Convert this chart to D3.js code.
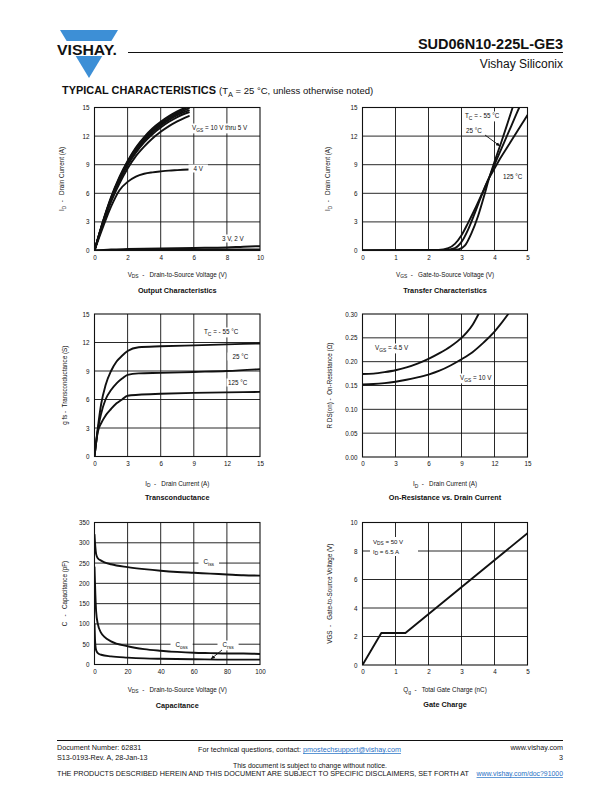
<!DOCTYPE html>
<html><head><meta charset="utf-8">
<script src="https://cdn.jsdelivr.net/npm/d3@7"></script>
<style>
body{margin:0;background:#fff}
svg{display:block}
text{font-family:"Liberation Sans",Arial,Helvetica,sans-serif;fill:#111;white-space:pre}
</style></head>
<body><svg id="c" width="612" height="792"></svg>
<script>
// ---------- DATA ----------
// Output characteristics (VDS, ID)
const outXTicks = [0,2,4,6,8,10];
const outYTicks = [0,3,6,9,12,15];
const outV10 = [[0,0],[0.5,3.0],[1,5.6],[1.5,7.7],[2,9.4],[2.5,10.8],[3,11.9],[3.5,12.8],[4,13.5],[4.5,14.1],[5,14.6],[5.5,15.0]];
const outV9  = [[0,0],[0.5,2.95],[1,5.5],[1.5,7.6],[2,9.3],[2.5,10.7],[3,11.8],[3.5,12.7],[4,13.4],[4.5,14.0],[5,14.5],[5.6,15.0]];
const outV8  = [[0,0],[0.5,2.9],[1,5.45],[1.5,7.5],[2,9.2],[2.5,10.55],[3,11.65],[3.5,12.55],[4,13.25],[4.5,13.85],[5,14.35],[5.7,14.9]];
const outV7  = [[0,0],[0.5,2.85],[1,5.4],[1.5,7.4],[2,9.05],[2.5,10.4],[3,11.5],[3.5,12.4],[4,13.1],[4.5,13.7],[5,14.2],[5.7,14.7]];
const outV6  = [[0,0],[0.5,2.8],[1,5.3],[1.5,7.3],[2,8.95],[2.5,10.25],[3,11.35],[3.5,12.2],[4,12.9],[4.5,13.5],[5,14.0],[5.7,14.5]];
const outV5  = [[0,0],[0.5,2.7],[1,5.1],[1.5,7.0],[2,8.6],[2.5,9.9],[3,10.9],[3.5,11.75],[4,12.45],[4.5,13.05],[5,13.55],[5.7,14.1]];
const outV4  = [[0,0],[0.5,2.4],[1,4.6],[1.5,6.3],[2,7.2],[2.5,7.75],[3,8.05],[3.5,8.2],[4,8.3],[4.5,8.38],[5,8.43],[5.7,8.5]];
const outV3  = [[0,0],[1,0.1],[2,0.15],[4,0.22],[6,0.27],[8,0.32],[9,0.4],[10,0.45]];
const outV2  = [[0,0],[2,0.05],[5,0.08],[10,0.12]];

// Transfer characteristics (VGS, ID)
const trXTicks = [0,1,2,3,4,5];
const trYTicks = [0,3,6,9,12,15];
const trM55 = [[0,0],[2.5,0.02],[2.9,0.1],[3.1,0.5],[3.3,1.8],[3.5,3.6],[3.7,5.9],[3.82,7.4],[4.0,9.3],[4.2,11.3],[4.4,13.4],[4.55,15]];
const tr25  = [[0,0],[2.5,0.05],[2.8,0.25],[3.0,0.9],[3.2,2.2],[3.4,3.9],[3.6,5.7],[3.82,7.5],[4.0,9.0],[4.2,10.6],[4.4,12.2],[4.6,13.8],[4.75,15]];
const tr125 = [[0,0],[2.3,0.05],[2.6,0.25],[2.8,0.7],[3.0,1.6],[3.2,2.9],[3.4,4.3],[3.6,5.8],[3.82,7.5],[4.0,8.6],[4.2,9.8],[4.4,10.9],[4.6,12.0],[4.8,13.1],[5.0,14.2]];

// Transconductance (ID, gfs)
const gfsXTicks = [0,3,6,9,12,15];
const gfsYTicks = [0,3,6,9,12,15];
const gfsM55 = [[0,0],[0.3,3],[0.6,5.5],[1,7.5],[1.5,9],[2,10],[2.5,10.6],[3,11.1],[4,11.5],[6,11.6],[9,11.7],[12,11.8],[15,11.9]];
const gfs25  = [[0,0],[0.3,2.8],[0.6,4.5],[1,6],[1.5,7],[2,7.7],[2.5,8.2],[3,8.6],[4,8.75],[6,8.8],[9,8.9],[12,9.0],[15,9.2]];
const gfs125 = [[0,0],[0.3,2.6],[0.6,3.5],[1,4.3],[1.5,5],[2,5.6],[2.5,6],[3,6.4],[4,6.5],[6,6.6],[9,6.7],[12,6.75],[15,6.8]];

// On-resistance (ID, RDS(on))
const rdsXTicks = [0,3,6,9,12,15];
const rdsYTicks = [0,0.05,0.10,0.15,0.20,0.25,0.30];
const rds45 = [[0,0.174],[1,0.175],[2,0.178],[3,0.182],[4,0.188],[5,0.196],[6,0.206],[7,0.218],[8,0.232],[9,0.25],[9.5,0.262],[10,0.277],[10.55,0.3]];
const rds10 = [[0,0.152],[1,0.153],[2,0.155],[3,0.158],[4,0.162],[5,0.167],[6,0.173],[7,0.181],[8,0.192],[9,0.205],[10,0.22],[11,0.24],[12,0.263],[12.5,0.277],[13.25,0.3]];

// Capacitance (VDS, C)
const capXTicks = [0,20,40,60,80,100];
const capYTicks = [0,50,100,150,200,250,300,350];
const ciss = [[0,320],[0.5,290],[1,272],[2,262],[4,256],[6,252],[10,247],[20,240],[30,235],[40,231],[50,228],[60,226],[70,224],[80,222],[90,220],[100,219]];
const coss = [[0,240],[0.5,175],[1,130],[2,100],[4,78],[6,68],[10,57],[20,45],[30,38],[40,34],[50,31],[60,29],[70,28],[80,27],[90,27],[100,26]];
const crss = [[0,100],[0.3,62],[0.6,45],[1,35],[2,28],[4,24],[10,20],[20,17],[30,15],[40,14],[60,13],[80,12],[100,12]];

// Gate charge (Qg, VGS)
const qgXTicks = [0,1,2,3,4,5];
const qgYTicks = [0,2,4,6,8,10];
const qgCurve = [[0,0],[0.57,2.25],[1.3,2.25],[5,9.25]];

// ---------- DRAWING ----------
const svg = d3.select("#c");
const INK = "#111";

function rich(g, x, y, segs, size, anchor, weight, color, shift) {
  const t = g.append("text").attr("x", x).attr("y", y)
    .attr("font-size", size).attr("text-anchor", anchor || "start");
  if (weight) t.attr("font-weight", weight);
  if (color) t.style("fill", color);
  const sh = shift == null ? size * 0.3 : shift;
  let shifted = 0;
  segs.forEach(s => {
    const txt = typeof s === "string" ? s : s[0];
    const sub = typeof s !== "string" && s[1];
    const ts = t.append("tspan").text(txt);
    if (sub && !shifted) { ts.attr("dy", sh).attr("font-size", size*0.78); shifted = 1; }
    else if (sub) { ts.attr("font-size", size*0.78); }
    else if (shifted) { ts.attr("dy", -sh); shifted = 0; }
  });
  return t;
}
function boxed(g, x, y, segs, size, pad) {
  const t = rich(g, x, y, segs, size);
  const b = t.node().getBBox();
  const p = pad == null ? 1.5 : pad;
  g.insert("rect", () => t.node()).attr("x", b.x - p).attr("y", b.y - 0.5)
    .attr("width", b.width + 2*p).attr("height", b.height + 1).attr("fill", "#fff");
  return t;
}

let clipId = 0;
function chart(cfg) {
  const g = svg.append("g");
  const x = d3.scaleLinear().domain(cfg.xDomain).range([cfg.left, cfg.right]);
  const y = d3.scaleLinear().domain(cfg.yDomain).range([cfg.bottom, cfg.top]);
  // grid
  g.append("g").selectAll("line").data(cfg.xTicks.slice(1, -1)).join("line")
    .attr("x1", d => x(d)).attr("x2", d => x(d)).attr("y1", cfg.top).attr("y2", cfg.bottom)
    .attr("stroke", INK).attr("stroke-width", 0.9);
  g.append("g").selectAll("line").data(cfg.yTicks.slice(1, -1)).join("line")
    .attr("y1", d => y(d)).attr("y2", d => y(d)).attr("x1", cfg.left).attr("x2", cfg.right)
    .attr("stroke", INK).attr("stroke-width", 0.9);
  // axes (tick labels)
  const xa = g.append("g").attr("transform", `translate(0,${cfg.bottom})`)
    .call(d3.axisBottom(x).tickValues(cfg.xTicks).tickSize(0).tickPadding(5).tickFormat(cfg.xFmt || d3.format("d")));
  const ya = g.append("g").attr("transform", `translate(${cfg.left},0)`)
    .call(d3.axisLeft(y).tickValues(cfg.yTicks).tickSize(0).tickPadding(5).tickFormat(cfg.yFmt || d3.format("d")));
  [xa, ya].forEach(a => {
    a.select(".domain").remove();
    a.selectAll("text").attr("font-size", 6.3).attr("font-family", '"Liberation Sans",Arial,sans-serif').style("fill", INK);
  });
  // clip
  const id = "clip" + (clipId++);
  g.append("clipPath").attr("id", id).append("rect")
    .attr("x", cfg.left).attr("y", cfg.top).attr("width", cfg.right - cfg.left).attr("height", cfg.bottom - cfg.top);
  const lines = g.append("g").attr("clip-path", `url(#${id})`);
  const line = d3.line().x(d => x(d[0])).y(d => y(d[1])).curve(cfg.curve || d3.curveMonotoneX);
  cfg.series.forEach(s => {
    lines.append("path").attr("d", line(s)).attr("fill", "none").attr("stroke", INK)
      .attr("stroke-width", cfg.sw || 1.9).attr("stroke-linejoin", "round").attr("stroke-linecap", "round");
  });
  // labels layer
  const lab = g.append("g");
  if (cfg.labels) cfg.labels(lab, x, y);
  // frame
  g.append("rect").attr("x", cfg.left).attr("y", cfg.top).attr("width", cfg.right - cfg.left)
    .attr("height", cfg.bottom - cfg.top).attr("fill", "none").attr("stroke", INK).attr("stroke-width", 1.1);
  // axis titles
  const cx = (cfg.left + cfg.right) / 2, cy = (cfg.top + cfg.bottom) / 2;
  rich(g, cx, cfg.bottom + cfg.xtOff, cfg.xTitle, 6.3, "middle");
  const yt = rich(g, 0, 0, cfg.yTitle, 6.3, "middle");
  yt.attr("transform", `translate(${cfg.ytX},${cy}) rotate(-90)`);
  rich(g, cx, cfg.bottom + cfg.titleOff, [cfg.title], 7.3, "middle", "bold");
  return g;
}

// arrowhead marker
svg.append("defs").append("marker").attr("id", "arr").attr("viewBox", "0 0 10 10")
  .attr("refX", 9).attr("refY", 5).attr("markerWidth", 5).attr("markerHeight", 5).attr("orient", "auto")
  .append("path").attr("d", "M0,1 L10,5 L0,9 Z").attr("fill", INK);
function arrow(g, x1, y1, x2, y2) {
  g.append("line").attr("x1", x1).attr("y1", y1).attr("x2", x2).attr("y2", y2)
    .attr("stroke", INK).attr("stroke-width", 0.9).attr("marker-end", "url(#arr)");
}

const L1 = 94.5, R1 = 260, L2 = 362.5, R2 = 527.5;

chart({
  left: L1, right: R1, top: 107.5, bottom: 250.5, xDomain: [0, 10], yDomain: [0, 15],
  xTicks: outXTicks, yTicks: outYTicks, series: [outV10, outV9, outV8, outV7, outV6, outV5, outV4, outV3, outV2],
  xTitle: [["V"], ["DS", 1], "  -   Drain-to-Source Voltage (V)"], yTitle: ["I", ["D", 1], "  -   Drain Current (A)"],
  title: "Output Characteristics", xtOff: 26, titleOff: 42, ytX: 64,
  labels: (g, x, y) => {
    boxed(g, 192, 130, ["V", ["GS", 1], " = 10 V thru 5 V"], 6.3);
    boxed(g, 190, 171, ["  4 V  "], 6.3);
    boxed(g, 222, 241, ["3 V, 2 V "], 6.3);
  }
});

chart({
  left: L2, right: R2, top: 107.5, bottom: 250.5, xDomain: [0, 5], yDomain: [0, 15],
  xTicks: trXTicks, yTicks: trYTicks, series: [trM55, tr25, tr125],
  xTitle: [["V"], ["GS", 1], "  -   Gate-to-Source Voltage (V)"], yTitle: ["I", ["D", 1], "  -   Drain Current (A)"],
  title: "Transfer Characteristics", xtOff: 26, titleOff: 42, ytX: 330,
  labels: (g, x, y) => {
    boxed(g, 465, 118, ["T", ["C", 1], " = - 55 °C"], 6.3);
    boxed(g, 466, 133, ["25 °C"], 6.3);
    arrow(g, 485, 135, 500, 146);
    boxed(g, 503, 179, ["125 °C"], 6.3);
  }
});

chart({
  left: L1, right: R1, top: 314, bottom: 456.5, xDomain: [0, 15], yDomain: [0, 15],
  xTicks: gfsXTicks, yTicks: gfsYTicks, series: [gfsM55, gfs25, gfs125],
  xTitle: [["I"], ["D", 1], "  -   Drain Current (A)"], yTitle: ["g fs -  Transconductance (S)"],
  title: "Transconductance", xtOff: 29, titleOff: 43, ytX: 67,
  labels: (g, x, y) => {
    boxed(g, 204, 334, ["T", ["C", 1], " = - 55 °C"], 6.3);
    boxed(g, 229, 359, ["  25 °C"], 6.3);
    boxed(g, 228, 385, ["125 °C"], 6.3);
  }
});

chart({
  left: L2, right: R2, top: 314, bottom: 457, xDomain: [0, 15], yDomain: [0, 0.30],
  xTicks: rdsXTicks, yTicks: rdsYTicks, series: [rds45, rds10], yFmt: d3.format(".2f"),
  xTitle: [["I"], ["D", 1], "  -   Drain Current (A)"], yTitle: ["R DS(on) -  On-Resistance (Ω)"],
  title: "On-Resistance vs. Drain Current", xtOff: 29, titleOff: 43, ytX: 332,
  labels: (g, x, y) => {
    boxed(g, 375, 350, ["V", ["GS", 1], " = 4.5 V"], 6.3);
    boxed(g, 460, 380, ["V", ["GS", 1], " = 10 V"], 6.3);
  }
});

chart({
  left: L1, right: R1, top: 522.5, bottom: 664.5, xDomain: [0, 100], yDomain: [0, 350],
  xTicks: capXTicks, yTicks: capYTicks, series: [ciss, coss, crss],
  xTitle: [["V"], ["DS", 1], "  -   Drain-to-Source Voltage (V)"], yTitle: ["C   -   Capacitance (pF)"],
  title: "Capacitance", xtOff: 27, titleOff: 43, ytX: 67,
  labels: (g, x, y) => {
    boxed(g, 200, 564, ["  C", ["iss", 1], "  "], 6.3);
    boxed(g, 172, 647, ["  C", ["oss", 1], "  "], 6.3);
    boxed(g, 219, 647, ["  C", ["rss", 1], "  "], 6.3);
    arrow(g, 222, 650, 211, 659);
  }
});

chart({
  left: L2, right: R2, top: 522.5, bottom: 665, xDomain: [0, 5], yDomain: [0, 10],
  xTicks: qgXTicks, yTicks: qgYTicks, series: [qgCurve], curve: d3.curveLinear,
  xTitle: [["Q"], ["g", 1], "  -   Total Gate Charge (nC)"], yTitle: ["VGS  -   Gate-to-Source Voltage (V)"],
  title: "Gate Charge", xtOff: 27, titleOff: 42, ytX: 332,
  labels: (g, x, y) => {
    g.append("rect").attr("x", 370).attr("y", 537).attr("width", 48).attr("height", 19).attr("fill", "#fff");
    rich(g, 373, 544, ["V", ["DS", 1], " = 50 V"], 6.1, null, null, null, 1.2);
    rich(g, 373, 553.5, ["I", ["D", 1], " = 6.5 A"], 6.1, null, null, null, 1.2);
  }
});

// ---------- HEADER ----------
const BLUE = "#3d8fd6";
svg.append("polygon").attr("points", "60,30 118,30 89,78").attr("fill", BLUE);
svg.append("rect").attr("x", 54).attr("y", 41).attr("width", 70).attr("height", 15).attr("fill", "#fff");
svg.append("text").attr("x", 57).attr("y", 54.5).attr("font-size", 14.5).attr("font-weight", "bold")
  .attr("textLength", 60).attr("lengthAdjust", "spacingAndGlyphs").text("VISHAY.");
svg.append("line").attr("x1", 128).attr("x2", 563).attr("y1", 52.5).attr("y2", 52.5).attr("stroke", INK).attr("stroke-width", 1.2);
svg.append("text").attr("x", 563).attr("y", 49).attr("text-anchor", "end").attr("font-size", 14.5)
  .attr("font-weight", "bold").text("SUD06N10-225L-GE3");
svg.append("text").attr("x", 563).attr("y", 68).attr("text-anchor", "end").attr("font-size", 12).text("Vishay Siliconix");
svg.append("text").attr("x", 62).attr("y", 94).attr("font-size", 10.5).attr("font-weight", "900")
  .attr("textLength", 154).attr("lengthAdjust", "spacingAndGlyphs").text("TYPICAL CHARACTERISTICS");
rich(svg, 219, 94, ["(T", ["A", 1], " = 25 °C, unless otherwise noted)"], 9.5);

// ---------- FOOTER ----------
svg.append("line").attr("x1", 57).attr("x2", 563).attr("y1", 740.5).attr("y2", 740.5).attr("stroke", INK).attr("stroke-width", 1);
const FS = 7.2, LINK = "#1f6fc4";
svg.append("text").attr("x", 57).attr("y", 750).attr("font-size", FS).text("Document Number: 62831");
svg.append("text").attr("x", 57).attr("y", 760).attr("font-size", FS).text("S13-0193-Rev. A, 28-Jan-13");
const ft = svg.append("text").attr("x", 198).attr("y", 752).attr("font-size", FS);
ft.append("tspan").text("For technical questions, contact: ");
ft.append("tspan").style("fill", LINK).attr("text-decoration", "underline").text("pmostechsupport@vishay.com");
svg.append("text").attr("x", 563).attr("y", 750).attr("text-anchor", "end").attr("font-size", FS).text("www.vishay.com");
svg.append("text").attr("x", 563).attr("y", 760).attr("text-anchor", "end").attr("font-size", FS).text("3");
svg.append("text").attr("x", 310).attr("y", 767.5).attr("text-anchor", "middle").attr("font-size", 6.9).text("This document is subject to change without notice.");
svg.append("text").attr("x", 57).attr("y", 776).attr("font-size", 6.9).attr("textLength", 412).attr("lengthAdjust", "spacingAndGlyphs")
  .text("THE PRODUCTS DESCRIBED HEREIN AND THIS DOCUMENT ARE SUBJECT TO SPECIFIC DISCLAIMERS, SET FORTH AT");
svg.append("text").attr("x", 563).attr("y", 776).attr("text-anchor", "end").attr("font-size", 6.9)
  .style("fill", LINK).attr("text-decoration", "underline").text("www.vishay.com/doc?91000");
</script></body></html>
